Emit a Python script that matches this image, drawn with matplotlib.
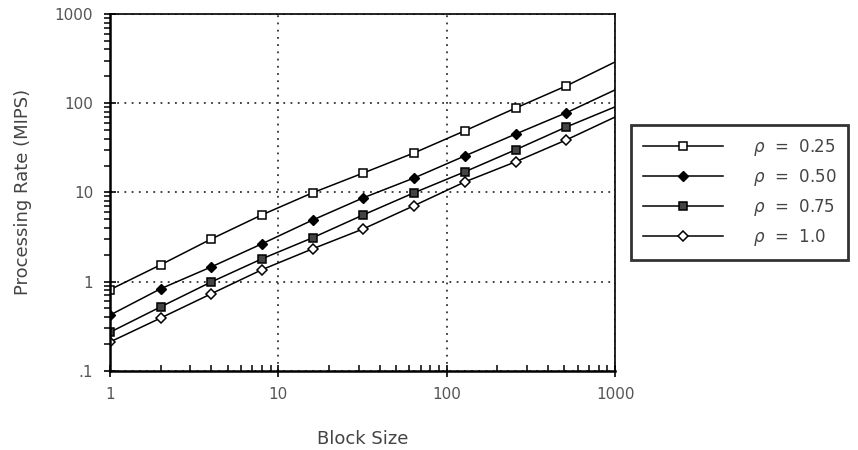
import matplotlib.pyplot as plt
from matplotlib.ticker import FixedLocator, LogLocator, NullFormatter

# block sizes (last point is the end of the line, no marker)
block_size = [1, 2, 4, 8, 16, 32, 64, 128, 256, 512, 1000]

rate_025 = [0.81, 1.54, 3.0, 5.6, 9.9, 16.5, 27.7, 49, 88, 156, 290]
rate_050 = [0.42, 0.83, 1.46, 2.65, 4.9, 8.7, 14.5, 25.6, 45, 78, 141]
rate_075 = [0.27, 0.52, 0.99, 1.8, 3.1, 5.6, 9.9, 17, 30, 54, 91]
rate_100 = [0.21, 0.39, 0.73, 1.36, 2.33, 3.9, 7.1, 13.1, 22, 38.7, 70]

labels = [r"$\rho$  =  0.25", r"$\rho$  =  0.50", r"$\rho$  =  0.75", r"$\rho$  =  1.0"]

yticks = [0.1, 1, 10, 100, 1000]
ytick_labels = [".1", "1", "10", "100", "1000"]
xticks = [1, 10, 100, 1000]
xtick_labels = ["1", "10", "100", "1000"]

fig = plt.figure(figsize=(8.58, 4.5), dpi=100)
ax = fig.add_axes([0.128, 0.176, 0.589, 0.793])

mark = list(range(len(block_size) - 1))
ax.plot(block_size, rate_025, color="black", lw=1.1, marker="s", ms=5.5,
        mfc="white", mec="black", mew=1.1, markevery=mark, label=labels[0])
ax.plot(block_size, rate_050, color="black", lw=1.1, marker="D", ms=4.8,
        mfc="black", mec="black", markevery=mark, label=labels[1])
ax.plot(block_size, rate_075, color="black", lw=1.1, marker="s", ms=5.5,
        mfc="#444444", mec="black", mew=1.1, markevery=mark, label=labels[2])
ax.plot(block_size, rate_100, color="black", lw=1.1, marker="D", ms=4.8,
        mfc="white", mec="black", mew=1.1, markevery=mark, label=labels[3])

ax.set_xscale("log")
ax.set_yscale("log")
ax.set_xlim(1, 1000)
ax.set_ylim(0.1, 1000)

ax.xaxis.set_major_locator(FixedLocator(xticks))
ax.set_xticklabels(xtick_labels)
ax.yaxis.set_major_locator(FixedLocator(yticks))
ax.set_yticklabels(ytick_labels)
ax.xaxis.set_minor_locator(LogLocator(base=10, subs=range(2, 10)))
ax.yaxis.set_minor_locator(LogLocator(base=10, subs=range(2, 10)))
ax.xaxis.set_minor_formatter(NullFormatter())
ax.yaxis.set_minor_formatter(NullFormatter())

ax.tick_params(which="major", direction="inout", length=8, width=1.2,
               labelsize=11, labelcolor="#555555", pad=8)
ax.tick_params(axis="x", which="minor", direction="in", length=4, width=1.1)
ax.tick_params(axis="y", which="minor", direction="out", length=4, width=1.1)

ax.grid(True, which="major", linestyle=(0, (1, 3)), color="#333333", lw=1.3)
for s in ["left", "bottom"]:
    ax.spines[s].set_linewidth(1.8)
for s in ["top", "right"]:
    ax.spines[s].set_linewidth(1.2)

ax.set_xlabel("Block Size", fontsize=13, color="#444444", labelpad=20)
ax.set_ylabel("Processing Rate (MIPS)", fontsize=13, color="#444444", labelpad=16)

leg = fig.legend(loc="upper left", bbox_to_anchor=(0.736, 0.722),
                 borderaxespad=0, frameon=True, fancybox=False,
                 edgecolor="black", fontsize=12, handlelength=4.8,
                 handletextpad=1.8, labelspacing=0.55, borderpad=0.7,
                 labelcolor="#444444", numpoints=1)
leg.get_frame().set_linewidth(2.0)

fig.savefig("out.png", dpi=100)
